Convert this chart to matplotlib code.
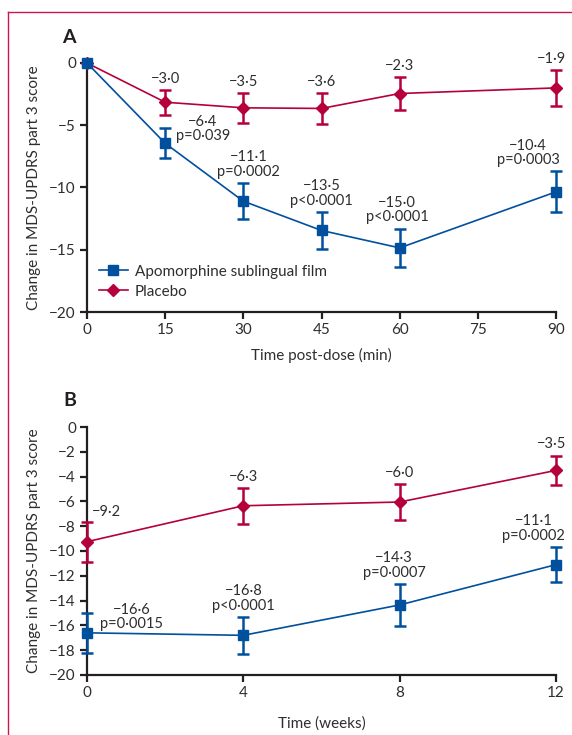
import matplotlib
matplotlib.use("Agg")
import matplotlib.pyplot as plt
from matplotlib.lines import Line2D

# ---------------- data ----------------
# Panel A (time post-dose, min)
a_time = [0, 15, 30, 45, 60, 90]
a_apo = [0, -6.45, -11.1, -13.45, -14.85, -10.35]
a_apo_err = [0, 1.2, 1.45, 1.5, 1.55, 1.65]
a_pla = [0, -3.15, -3.6, -3.65, -2.45, -2.0]
a_pla_err = [0, 1.0, 1.2, 1.25, 1.35, 1.45]
a_apo_labels = ["", "\u22126\u00b74\np=0\u00b7039", "\u221211\u00b71\np=0\u00b70002",
                "\u221213\u00b75\np<0\u00b70001", "\u221215\u00b70\np<0\u00b70001",
                "\u221210\u00b74\np=0\u00b70003"]
a_pla_labels = ["", "\u22123\u00b70", "\u22123\u00b75", "\u22123\u00b76", "\u22122\u00b73", "\u22121\u00b79"]
a_xticks = [0, 15, 30, 45, 60, 75, 90]
a_yticks = [0, -5, -10, -15, -20]

# Panel B (time, weeks)
b_time = [0, 4, 8, 12]
b_apo = [-16.6, -16.8, -14.35, -11.1]
b_apo_err = [1.6, 1.5, 1.7, 1.43]
b_pla = [-9.25, -6.35, -6.05, -3.5]
b_pla_err = [1.6, 1.45, 1.48, 1.2]
b_apo_labels = ["\u221216\u00b76\np=0\u00b70015", "\u221216\u00b78\np<0\u00b70001",
                "\u221214\u00b73\np=0\u00b70007", "\u221211\u00b71\np=0\u00b70002"]
b_pla_labels = ["\u22129\u00b72", "\u22126\u00b73", "\u22126\u00b70", "\u22123\u00b75"]
b_xticks = [0, 4, 8, 12]
b_yticks = [0, -2, -4, -6, -8, -10, -12, -14, -16, -18, -20]

series_names = ["Apomorphine sublingual film", "Placebo"]

# ---------------- style ----------------
BLUE = "#00509d"
RED = "#b5003b"
BORDER = "#c8184e"
INK = "#231f20"
TXT = "#2e2e2e"
plt.rcParams["font.family"] = ["Lato", "DejaVu Sans"]
plt.rcParams["axes.unicode_minus"] = True

fig = plt.figure(figsize=(5.72, 7.35), dpi=100)
W, H = 572, 735

def px_axes(l, r, t, b):
    return fig.add_axes([l / W, 1 - b / H, (r - l) / W, (b - t) / H])

axA = px_axes(87, 556, 63, 312)
axB = px_axes(87, 556, 427, 675)

def fmt_tick(v):
    return ("\u2212" + str(abs(v))) if v < 0 else str(v)

def style_ax(ax, xticks, yticks):
    for s in ("top", "right"):
        ax.spines[s].set_visible(False)
    for s in ("left", "bottom"):
        ax.spines[s].set_color(INK)
        ax.spines[s].set_linewidth(1.6)
    ax.set_xlim(xticks[0], xticks[-1])
    ax.set_ylim(yticks[-1], yticks[0])
    ax.set_xticks(xticks)
    ax.set_yticks(yticks)
    ax.set_xticklabels([fmt_tick(v) for v in xticks])
    ax.set_yticklabels([fmt_tick(v) for v in yticks])
    ax.tick_params(direction="out", length=5, width=1.6, color=INK,
                   labelsize=11, labelcolor=TXT, pad=3)

def draw_series(ax, x, y, err, color, marker, ms, name, z, skip0):
    xs = x[1:] if skip0 else x
    ys = y[1:] if skip0 else y
    es = err[1:] if skip0 else err
    ax.errorbar(xs, ys, yerr=es, fmt="none", ecolor=color, elinewidth=1.8,
                capsize=4, capthick=1.8, zorder=z, clip_on=False)
    line, = ax.plot(x, y, color=color, lw=1.2, marker=marker, ms=ms,
                    mec=color, mfc=color, zorder=z + 1, clip_on=False, label=name)
    return line

# ---------- Panel A ----------
style_ax(axA, a_xticks, a_yticks)
lp = draw_series(axA, a_time, a_pla, a_pla_err, RED, "D", 6.5, series_names[1], 3, True)
la = draw_series(axA, a_time, a_apo, a_apo_err, BLUE, "s", 7.2, series_names[0], 5, True)

ann_kw = dict(textcoords="offset points", fontsize=10.5, color=TXT,
              linespacing=1.05, multialignment="center")
a_pla_dx = [0, 0, 0, 0, 0, -3.5]
for x, y, e, t, dx in zip(a_time, a_pla, a_pla_err, a_pla_labels, a_pla_dx):
    if t:
        axA.annotate(t, (x, y + e), xytext=(dx, 3), ha="center", va="bottom", **ann_kw)
a_apo_off = [(0, 0), (27, 0), (4, 3), (0, 3), (-2, 3), (-20, 3)]
for i, (x, y, e, t) in enumerate(zip(a_time, a_apo, a_apo_err, a_apo_labels)):
    if not t:
        continue
    dx, dy = a_apo_off[i]
    yy = y if i == 1 else y + e
    axA.annotate(t, (x, yy), xytext=(dx, dy), ha="center", va="bottom", **ann_kw)

axA.set_xlabel("Time post-dose (min)", fontsize=11, color=TXT, labelpad=8)
axA.set_ylabel("Change in MDS-UPDRS part 3 score", fontsize=11, color=TXT, labelpad=6)
axA.legend(handles=[la, lp], loc="upper left", bbox_to_anchor=(0.025, 0.19),
           frameon=False, fontsize=11, handlelength=1.9, handletextpad=0.45,
           labelspacing=0.4, borderpad=0, borderaxespad=0, labelcolor=TXT)
fig.text(62 / W, 1 - 43 / H, "A", fontsize=14, fontweight="bold", color=INK,
         ha="left", va="baseline")

# ---------- Panel B ----------
style_ax(axB, b_xticks, b_yticks)
draw_series(axB, b_time, b_pla, b_pla_err, RED, "D", 6.5, series_names[1], 3, False)
draw_series(axB, b_time, b_apo, b_apo_err, BLUE, "s", 7.2, series_names[0], 5, False)

b_pla_off = [(3.5, 2), (0, 3), (0, 3), (-3.5, 3)]
for i, (x, y, e, t) in enumerate(zip(b_time, b_pla, b_pla_err, b_pla_labels)):
    dx, dy = b_pla_off[i]
    axB.annotate(t, (x, y + e), xytext=(dx, dy), ha="left" if i == 0 else "center",
                 va="bottom", **ann_kw)
b_apo_off = [(9.5, 1), (0, 3), (-4, 3), (-16, 3)]
for i, (x, y, e, t) in enumerate(zip(b_time, b_apo, b_apo_err, b_apo_labels)):
    dx, dy = b_apo_off[i]
    yy = y if i == 0 else y + e
    axB.annotate(t, (x, yy), xytext=(dx, dy), ha="left" if i == 0 else "center",
                 va="bottom", **ann_kw)

axB.set_xlabel("Time (weeks)", fontsize=11, color=TXT, labelpad=12)
axB.set_ylabel("Change in MDS-UPDRS part 3 score", fontsize=11, color=TXT, labelpad=6)
fig.text(63 / W, 1 - 406 / H, "B", fontsize=14, fontweight="bold", color=INK,
         ha="left", va="baseline")

# ---------- frame lines ----------
fig.add_artist(Line2D([8 / W, 1], [1 - 12 / H, 1 - 12 / H], color=BORDER, lw=1.0))
fig.add_artist(Line2D([8 / W, 8 / W], [0, 1 - 12 / H], color=BORDER, lw=1.0))

fig.savefig("out.png", dpi=100)
